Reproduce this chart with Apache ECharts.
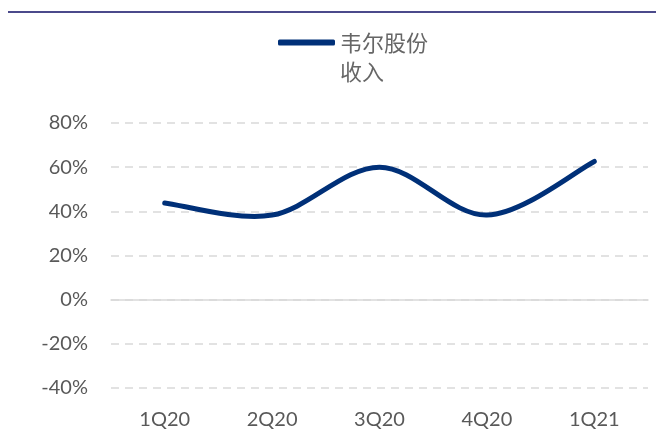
<!DOCTYPE html>
<html>
<head>
<meta charset="utf-8">
<script src="https://cdn.jsdelivr.net/npm/echarts@6/dist/echarts.min.js"></script>
<style>html,body{margin:0;padding:0;background:#fff;}#c{width:656px;height:430px;}</style>
</head>
<body>
<div id="c"></div>
<script>
var categories = ['1Q20', '2Q20', '3Q20', '4Q20', '1Q21'];
var revenueGrowth = [43.8, 38.3, 60, 38.3, 62.6];
var seriesName = '韦尔股份收入';
var legendLines = ['', '韦尔股份', '收入'];
var yMin = -40, yMax = 80, yInterval = 20;

var lineColor = '#003078';
var chart = echarts.init(document.getElementById('c'), null, {renderer: 'canvas'});
var labelFont = 'Lato, "Open Sans", sans-serif';

// Smooth curve (Catmull-Rom style, as spreadsheet smoothed lines) through points placed by the axes
function renderSmooth(params, api) {
  if (params.dataIndex !== 0) return null;
  var pts = revenueGrowth.map(function (v, i) { return api.coord([i, v]); });
  var n = pts.length;
  var d = 'M' + pts[0][0] + ' ' + pts[0][1];
  for (var i = 0; i < n - 1; i++) {
    var p0 = pts[Math.max(i - 1, 0)], p1 = pts[i], p2 = pts[i + 1], p3 = pts[Math.min(i + 2, n - 1)];
    var c1x = p1[0] + (p2[0] - p0[0]) / 6, c1y = p1[1] + (p2[1] - p0[1]) / 6;
    var c2x = p2[0] - (p3[0] - p1[0]) / 6, c2y = p2[1] - (p3[1] - p1[1]) / 6;
    d += ' C' + c1x + ' ' + c1y + ' ' + c2x + ' ' + c2y + ' ' + p2[0] + ' ' + p2[1];
  }
  return {
    type: 'path',
    shape: {pathData: d},
    style: {fill: 'none', stroke: lineColor, lineWidth: 5, lineCap: 'round', lineJoin: 'round'}
  };
}

chart.setOption({
  animation: false,
  backgroundColor: '#fff',
  graphic: [{
    type: 'rect', left: 8, top: 11, shape: {width: 648, height: 2},
    style: {fill: '#4b4a8b'}, silent: true
  }],
  legend: {
    left: 273, top: -6,
    icon: 'roundRect', itemWidth: 57, itemHeight: 6,
    formatter: function () { return legendLines.join('\n'); },
    textStyle: {
      fontFamily: '"Noto Sans CJK SC", sans-serif', fontSize: 22, color: '#666',
      lineHeight: 29
    }
  },
  grid: {left: 111, right: 8, top: 123, bottom: 41, containLabel: false},
  xAxis: {
    type: 'category', data: categories, boundaryGap: true,
    axisLine: {show: true, onZero: true, lineStyle: {color: '#d9d9d9', width: 1.5}},
    axisTick: {show: false},
    axisLabel: {fontFamily: labelFont, fontSize: 20, color: '#595959', margin: 22},
    splitLine: {show: false}
  },
  yAxis: {
    type: 'value', min: yMin, max: yMax, interval: yInterval,
    axisLine: {show: false}, axisTick: {show: false},
    axisLabel: {formatter: '{value}%', fontFamily: labelFont, fontSize: 20, color: '#595959', margin: 23},
    splitLine: {show: true, lineStyle: {color: '#d9d9d9', width: 1.5, type: [8, 6]}}
  },
  series: [{
    name: seriesName, type: 'custom',
    coordinateSystem: 'cartesian2d',
    data: revenueGrowth.map(function (v, i) { return [i, v]; }),
    encode: {x: 0, y: 1},
    renderItem: renderSmooth,
    itemStyle: {color: lineColor}
  }]
});
</script>
</body>
</html>
